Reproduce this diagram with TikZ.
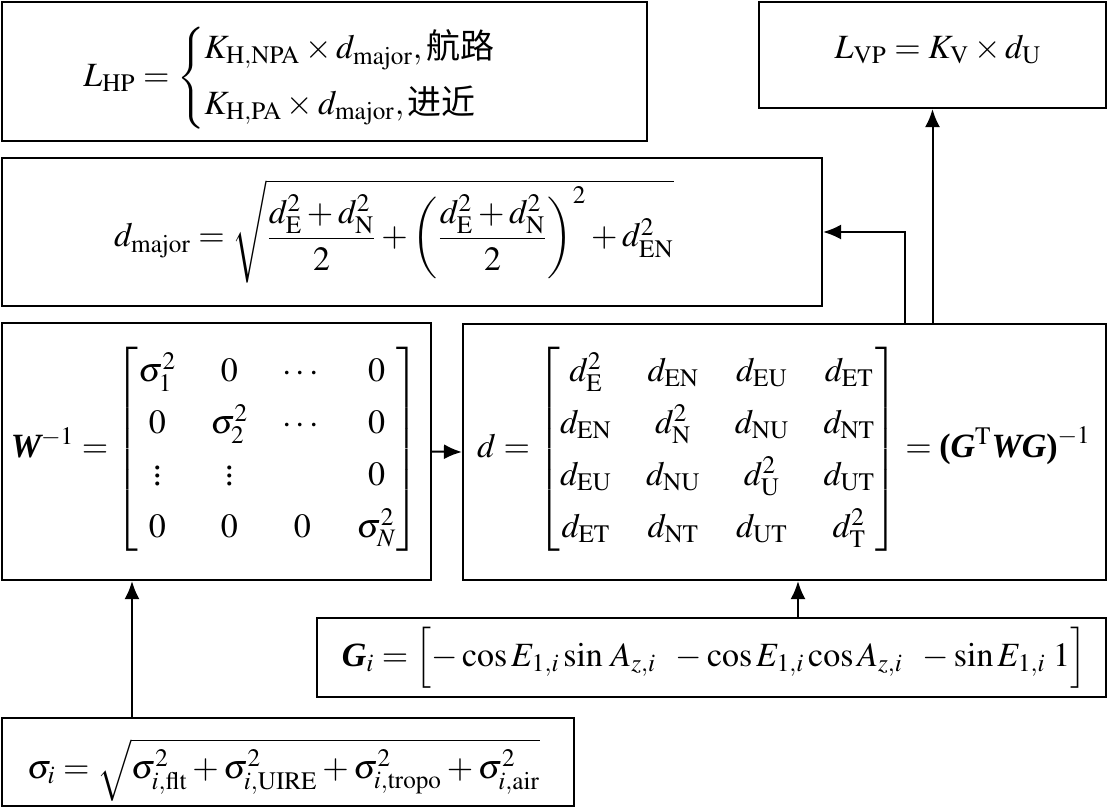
\documentclass[tikz,border=0pt]{standalone}
\usepackage{amsmath}
\usepackage{mathptmx}
\usepackage{fontspec}
\setmainfont{Liberation Serif}
\newfontfamily\cjk{Noto Sans CJK SC}
\usetikzlibrary{arrows.meta}
\newcommand{\bvec}[1]{\text{\bfseries\itshape #1}}
\newcommand{\rmsub}[1]{\mathrm{#1}}
\newcommand{\widemat}{\setlength{\arraycolsep}{8.6pt}\renewcommand{\arraystretch}{1.3}}

\begin{document}
\begin{tikzpicture}[x=0.5pt,y=-0.5pt,
  box/.style={draw=black,line width=1.1pt,rectangle,inner sep=0pt},
  formula/.style={inner sep=0pt,font=\fontsize{17}{20}\selectfont},
  arr/.style={line width=1pt,-{Latex[length=9pt,width=7.5pt]}}]
   \useasboundingbox (0,0) rectangle (1109,810);
   \begin{scope}[every node/.style={box}]
    \node[minimum width=322.5pt,minimum height=69.5pt] (lhp) at (324.5,71.5) {};
    \node[minimum width=173.5pt,minimum height=53pt] (lvp) at (932.5,55) {};
    \node[minimum width=410pt,minimum height=74pt] (dmaj) at (412,232) {};
    \node[minimum width=214.5pt,minimum height=128.5pt] (winv) at (216.5,451.5) {};
    \node[minimum width=321.5pt,minimum height=128pt] (dmat) at (784.5,452) {};
    \node[minimum width=394.5pt,minimum height=39.5pt] (gvec) at (711.5,657.5) {};
    \node[minimum width=286pt,minimum height=44pt] (sig) at (288,762) {};
   \end{scope}
   \begin{scope}[every node/.style={formula}]
    \node (lhptxt) at (290,78) {$\delimiterfactor=850 L_{\rmsub{HP}}=\left\{\begin{array}{@{}l@{}}
        K_{\rmsub{H,NPA}}\times d_{\rmsub{major}},\text{\cjk 航路}\\[7.5pt]
        K_{\rmsub{H,PA}}\times d_{\rmsub{major}},\text{\cjk 进近}\end{array}\right.$};
    \node[anchor=base] (lvptxt) at (938,58) {$L_{\rmsub{VP}}=K_{\rmsub{V}}\times d_{\rmsub{U}}$};
    \node (dmajtxt) at (394,231) {$d_{\rmsub{major}}=\sqrt{\dfrac{d_{\rmsub{E}}^2+d_{\rmsub{N}}^2}{2}
        +\left(\dfrac{d_{\rmsub{E}}^2+d_{\rmsub{N}}^2}{2}\right)^{2}+d_{\rmsub{EN}}^2}$};
    \node (winvtxt) at (215,449) {$\widemat\bvec{W}^{-1}=\begin{bmatrix}
        \sigma_1^2 & 0 & \cdots & 0\\
        0 & \sigma_2^2 & \cdots & 0\\
        \vdots & \vdots & & 0\\
        0 & 0 & 0 & \sigma_N^2\end{bmatrix}$};
    \node (dmattxt) at (784,449) {$\widemat d=\begin{bmatrix}
        d_{\rmsub{E}}^2 & d_{\rmsub{EN}} & d_{\rmsub{EU}} & d_{\rmsub{ET}}\\
        d_{\rmsub{EN}} & d_{\rmsub{N}}^2 & d_{\rmsub{NU}} & d_{\rmsub{NT}}\\
        d_{\rmsub{EU}} & d_{\rmsub{NU}} & d_{\rmsub{U}}^2 & d_{\rmsub{UT}}\\
        d_{\rmsub{ET}} & d_{\rmsub{NT}} & d_{\rmsub{UT}} & d_{\rmsub{T}}^2\end{bmatrix}
        =\textbf{(}\bvec{G}^{\rmsub{T}}\bvec{W}\bvec{G}\textbf{)}^{-1}$};
    \node (gvectxt) at (714,658) {$\bvec{G}_i=\Bigl[-\cos E_{1,i}\sin\,A_{z,i}\;\;
        -\cos E_{1,i}\cos A_{z,i}\;\;-\sin E_{1,i}\;1\Bigr]$};
    \node (sigtxt) at (283.5,770) {$\sigma_i=\sqrt{\sigma_{i,\rmsub{flt}}^2+\sigma_{i,\rmsub{UIRE}}^2
        +\sigma_{i,\rmsub{tropo}}^2+\sigma_{i,\rmsub{air}}^2}$};
   \end{scope}
   \begin{scope}[every path/.style={arr}]
    \draw ([xshift=-78pt]sig.north) -- ([xshift=-78pt]sig.north |- winv.south);
    \draw (winv.east) -- (dmat.west);
    \draw ([xshift=43.25pt]gvec.north) -- ([xshift=43.25pt]gvec.north |- dmat.south);
    \draw ([xshift=60.25pt]dmat.north) |- (dmaj.east);
    \draw (dmat.north -| lvp.south) -- (lvp.south);
   \end{scope}
\end{tikzpicture}
\end{document}
